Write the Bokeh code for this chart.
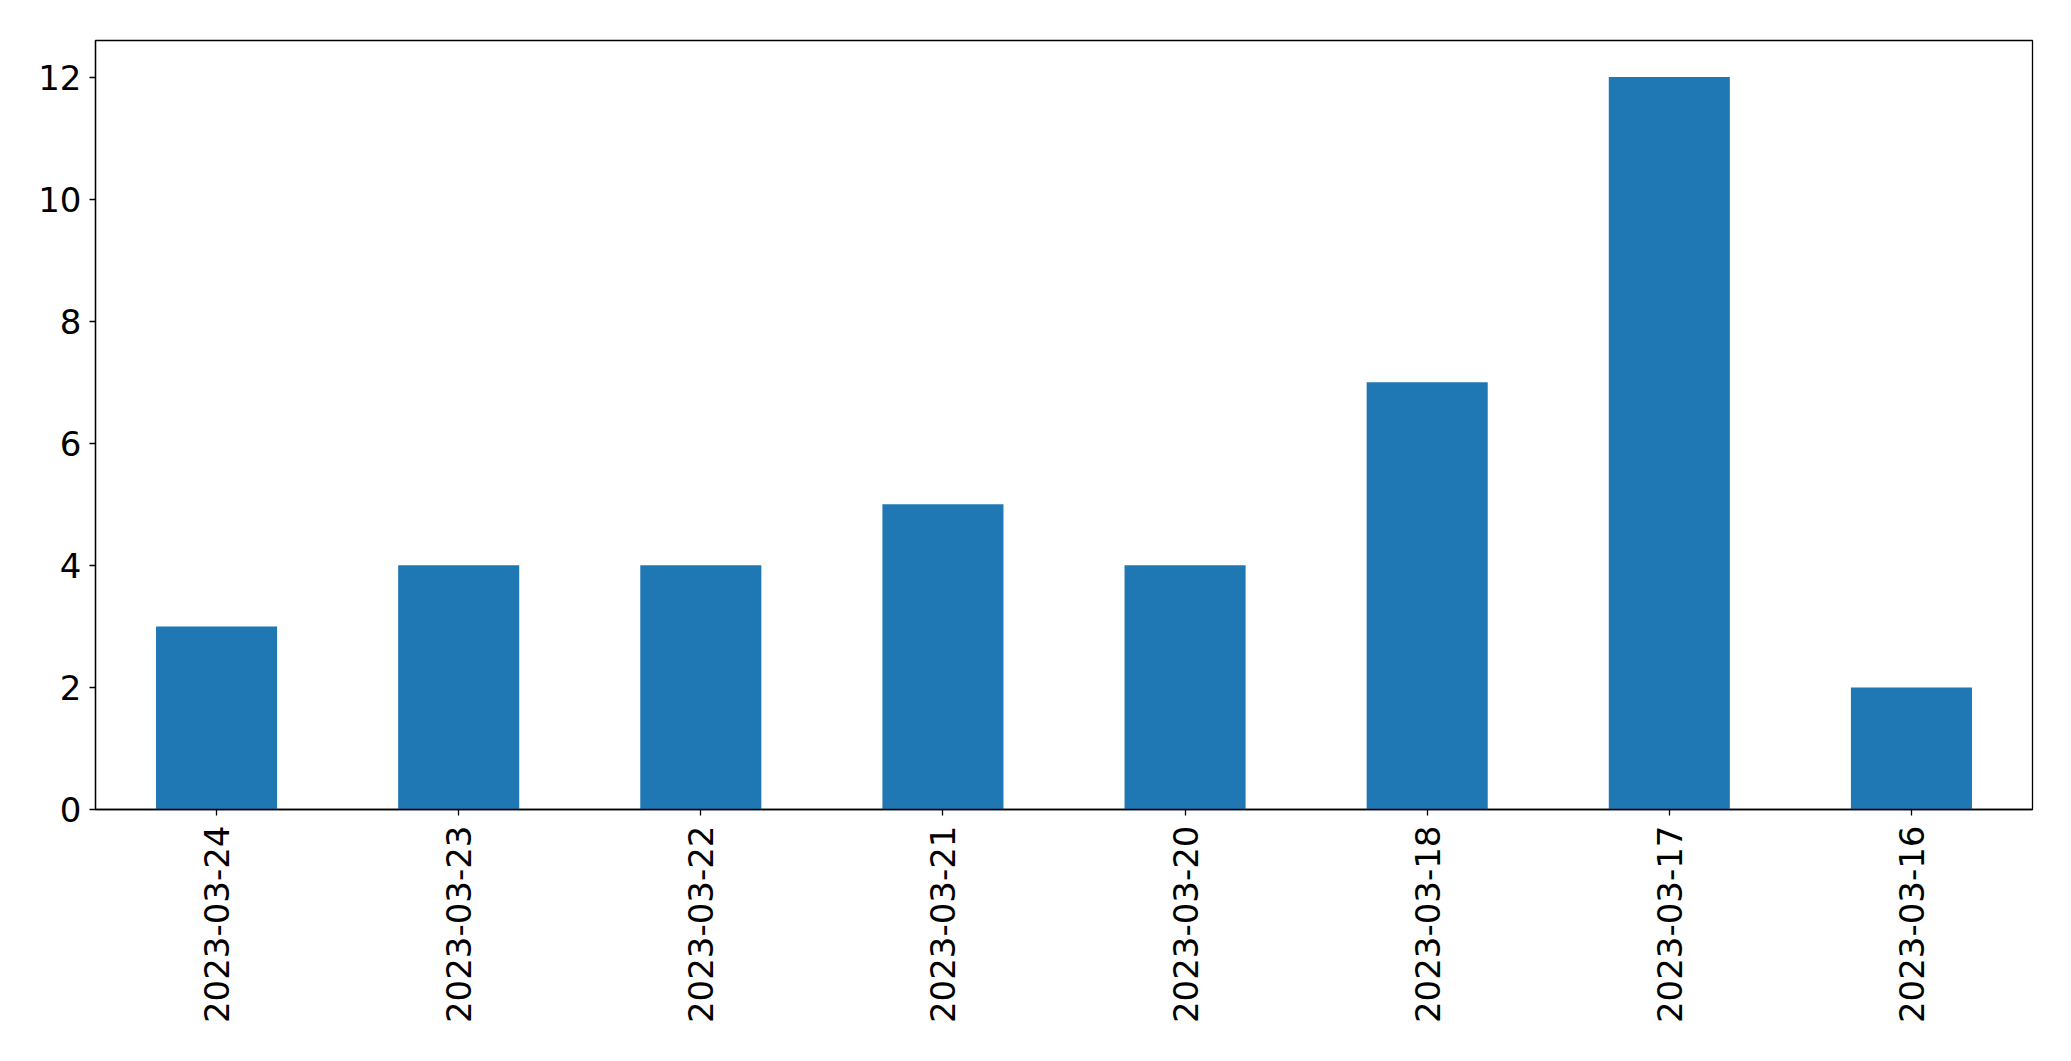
from bokeh.plotting import figure
from bokeh.models import FactorRange, Range1d, FixedTicker, ColumnDataSource
from bokeh.embed import file_html
from bokeh.resources import INLINE
import math

dates = ["2023-03-24", "2023-03-23", "2023-03-22", "2023-03-21",
         "2023-03-20", "2023-03-18", "2023-03-17", "2023-03-16"]
counts = [3, 4, 4, 5, 4, 7, 12, 2]
y_ticks = [0, 2, 4, 6, 8, 10, 12]

src = ColumnDataSource(data=dict(date=dates, count=counts))

p = figure(
    width=2055, height=1045,
    x_range=FactorRange(*dates, range_padding=0),
    y_range=Range1d(0, 12.6),
    output_backend="svg", toolbar_location=None,
    min_border_left=95, min_border_right=23,
    min_border_top=40, min_border_bottom=236,
)
p.vbar(x="date", top="count", width=0.5, source=src,
       fill_color="#1f77b4", line_color=None)

p.xgrid.visible = False
p.ygrid.visible = False
p.outline_line_color = "black"
p.outline_line_width = 1.3
p.background_fill_color = "white"
p.border_fill_color = "white"

p.yaxis.ticker = FixedTicker(ticks=y_ticks)
for ax in (p.xaxis, p.yaxis):
    ax.major_label_text_font = "DejaVu Sans"
    ax.major_label_text_font_size = "34px"
    ax.major_label_text_color = "black"
    ax.axis_line_color = "black"
    ax.axis_line_width = 1.3
    ax.major_tick_line_color = "black"
    ax.major_tick_line_width = 1.3
    ax.major_tick_out = 6
    ax.major_tick_in = 0
    ax.minor_tick_line_color = None
p.yaxis.major_label_standoff = 8
p.xaxis.major_label_standoff = 10
p.xaxis.major_label_orientation = math.pi / 2

open("out.html", "w").write(file_html(p, INLINE))
